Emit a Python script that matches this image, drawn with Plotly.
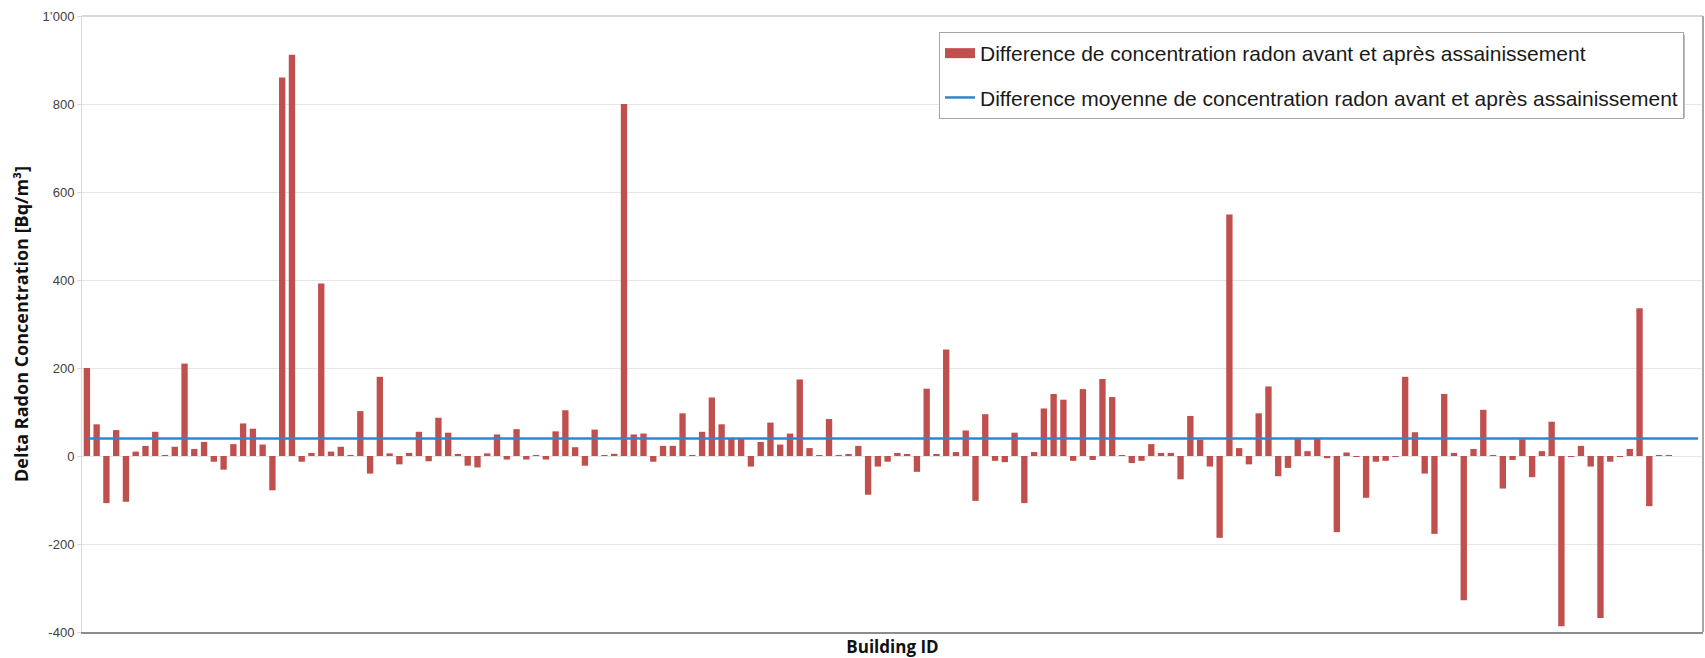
import plotly.graph_objects as go

# ---- data ----
DELTA = [
    200, 72, -107, 59, -104, 10, 23, 55, 1, 21,
    210, 16, 32, -13, -31, 27, 74, 62, 26, -78,
    860, 912, -13, 7, 392, 10, 21, 2, 102, -40,
    180, 6, -19, 7, 55, -12, 87, 53, 4, -22,
    -26, 6, 49, -8, 61, -8, 1, -8, 56, 104,
    20, -22, 60, 1, 5, 800, 49, 51, -13, 23,
    23, 97, 1, 55, 133, 72, 39, 39, -24, 32,
    76, 26, 51, 174, 18, 1, 84, 2, 4, 23,
    -88, -24, -13, 7, 4, -36, 153, 4, 242, 9,
    58, -102, 95, -11, -14, 53, -107, 9, 108, 141,
    128, -11, 152, -9, 175, 134, 2, -16, -11, 27,
    7, 7, -53, 91, 37, -24, -186, 549, 18, -19,
    97, 158, -46, -27, 39, 11, 39, -5, -173, 8,
    -1, -95, -13, -11, -1, 180, 54, -40, -177, 141,
    7, -328, 16, 105, 1, -74, -9, 38, -48, 11,
    78, -387, -2, 23, -24, -368, -13, -2, 16, 336,
    -114, 1, 1, None, None, None,
]
BUILDING_IDS = list(range(1, len(DELTA) + 1))
MEAN_DELTA = 40
MEAN_LINE = [MEAN_DELTA for _ in BUILDING_IDS]

Y_TICKS = [-400, -200, 0, 200, 400, 600, 800, 1000]
Y_TICK_TEXT = ["-400", "-200", "0", "200", "400", "600", "800", "1\u2019000"]

NAME_BARS = "Difference de concentration radon avant et après assainissement"
NAME_MEAN = "Difference moyenne de concentration radon avant et après assainissement"
Y_TITLE = "Delta Radon Concentration [Bq/m\u00b3]"
X_TITLE = "Building ID"

RED = "#C0504D"
BLUE = "#2F86CF"

fig = go.Figure()
fig.add_trace(go.Bar(
    x=BUILDING_IDS, y=DELTA, marker=dict(color=RED, line=dict(width=0)),
    name=NAME_BARS, showlegend=False,
))
# legend proxy for the bar series (wide rectangle swatch as in the reference)
fig.add_trace(go.Scatter(
    x=[None], y=[None], mode="lines", line=dict(color=RED, width=12),
    name=NAME_BARS, legendgroup="a",
))
fig.add_trace(go.Scatter(
    x=BUILDING_IDS, y=MEAN_LINE, mode="lines", line=dict(color=BLUE, width=2.5),
    name=NAME_MEAN, legendgroup="b",
))

W, H = 1705, 658
L, R, T, B = 82, 2, 16, 26
pw, ph = W - L - R, H - T - B

def px(x):
    return (x - L) / pw

def py(y):
    return (H - B - y) / ph

fig.update_layout(
    width=W, height=H,
    margin=dict(l=L, r=R, t=T, b=B, pad=0),
    paper_bgcolor="white", plot_bgcolor="white",
    bargap=0.35,
    font=dict(family="Liberation Sans", color="#222"),
    showlegend=True,
    legend=dict(
        x=px(939), y=py(32), xanchor="left", yanchor="top",
        bgcolor="white", bordercolor="#A6A6A6", borderwidth=1,
        font=dict(family="Liberation Sans", size=21, color="#1a1a1a"),
        tracegroupgap=14, itemwidth=30,
    ),
    xaxis=dict(
        range=[0.5, len(DELTA) + 0.5], showticklabels=False, showgrid=False,
        ticks="", zeroline=False, showline=True, linecolor="#8C8C8C", linewidth=2,
        automargin=False,
        title=dict(text="<b>" + X_TITLE + "</b>", standoff=15,
                   font=dict(family="Open Sans", size=17, color="#111")),
    ),
    yaxis=dict(
        range=[-400, 1000], tickvals=Y_TICKS, ticktext=Y_TICK_TEXT,
        showgrid=True, gridcolor="#E6E6E6", gridwidth=1, zeroline=False,
        showline=True, linecolor="#D9D9D9", linewidth=1,
        ticks="outside", ticklen=4, tickcolor="#D9D9D9",
        tickfont=dict(family="Liberation Sans", size=13, color="#404040"),
        title=dict(text="<b>" + Y_TITLE + "</b>", standoff=9,
                   font=dict(family="Open Sans", size=18, color="#111")),
    ),
    shapes=[
        dict(type="line", xref="paper", yref="paper", x0=0, x1=1, y0=1, y1=1,
             line=dict(color="#D9D9D9", width=2), layer="above"),
        dict(type="line", xref="paper", yref="paper", x0=1, x1=1, y0=0, y1=1,
             line=dict(color="#A6A6A6", width=2), layer="above"),
        # legend drop shadow
        dict(type="rect", xref="paper", yref="paper",
             x0=px(942), x1=px(1685), y0=py(118), y1=py(35),
             fillcolor="#BDBDBD", line=dict(width=0), layer="above"),
    ],
)

fig.write_html("out.html", config={"displayModeBar": False},
               post_script="document.body.style.margin='0';")
